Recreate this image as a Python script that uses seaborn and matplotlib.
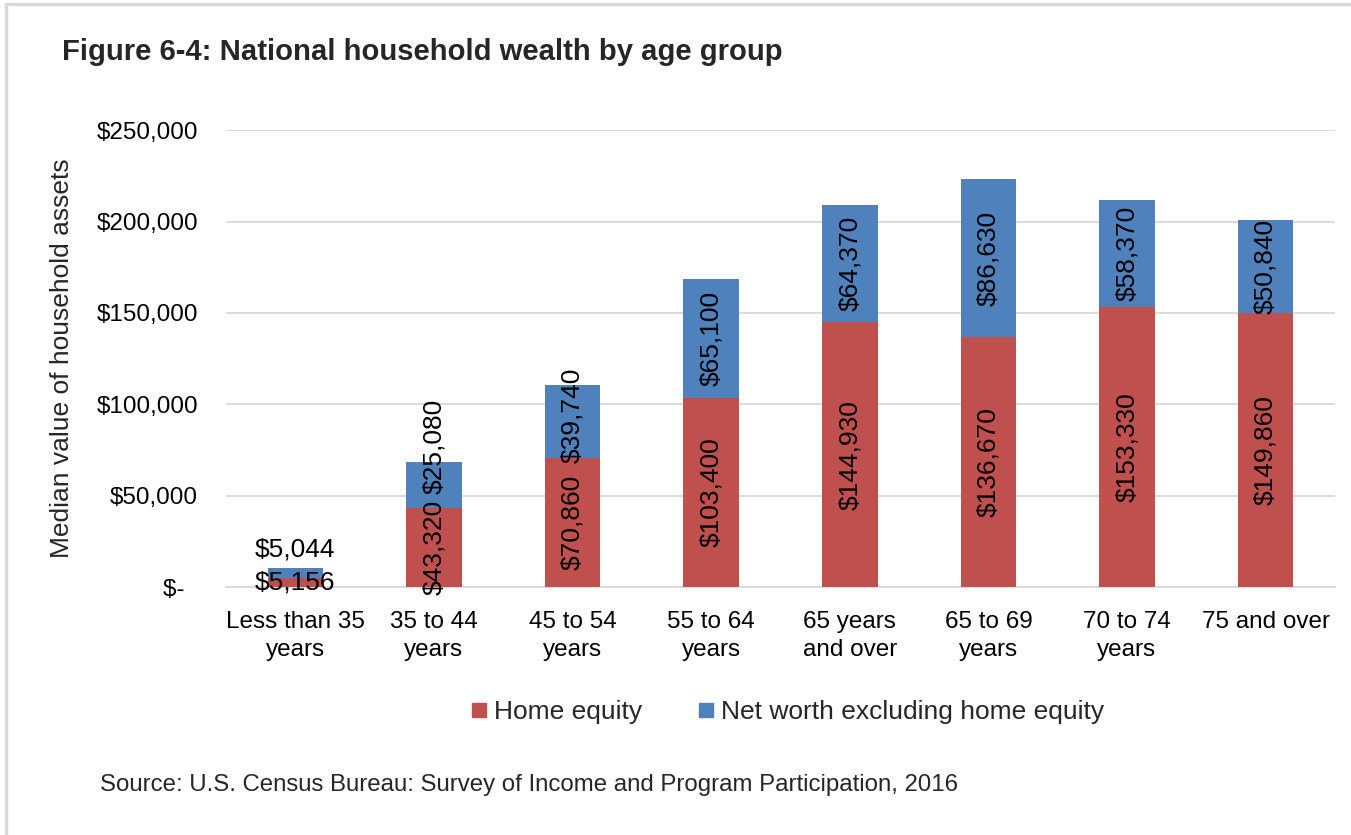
import matplotlib
matplotlib.use("Agg")
import matplotlib.pyplot as plt
from matplotlib.lines import Line2D
import seaborn as sns
import pandas as pd

# Median household wealth by age group (SIPP 2016)
age_groups = ["Less than 35\nyears", "35 to 44\nyears", "45 to 54\nyears", "55 to 64\nyears",
              "65 years\nand over", "65 to 69\nyears", "70 to 74\nyears", "75 and over"]
home_equity = [5156, 43320, 70860, 103400, 144930, 136670, 153330, 149860]
net_worth_ex_home = [5044, 25080, 39740, 65100, 64370, 86630, 58370, 50840]
y_ticks = [0, 50000, 100000, 150000, 200000, 250000]
y_tick_labels = ["$-  ", "$50,000", "$100,000", "$150,000", "$200,000", "$250,000"]

RED = "#C0504D"
BLUE = "#4F81BD"
GRID = "#D9D9D9"

sns.set_theme(style="white")
plt.rcParams["font.family"] = ["Liberation Sans", "DejaVu Sans"]

df = pd.DataFrame({
    "age": age_groups,
    "home": home_equity,
    "other": net_worth_ex_home,
})
df["total"] = df["home"] + df["other"]

fig = plt.figure(figsize=(13.51, 8.35), dpi=100)
ax = fig.add_axes([0.1673, 0.297, 0.8208, 0.547])

# Stacked bars: total in blue, home equity in red drawn over it
sns.barplot(data=df, x="age", y="total", color=BLUE, width=0.4, saturation=1,
            linewidth=0, ax=ax, zorder=2)
sns.barplot(data=df, x="age", y="home", color=RED, width=0.4, saturation=1,
            linewidth=0, ax=ax, zorder=3)

ax.set_ylim(0, 250000)
ax.set_xlim(-0.5, len(age_groups) - 0.5)
ax.set_yticks(y_ticks)
ax.set_yticklabels(y_tick_labels)
ax.yaxis.grid(True, color=GRID, linewidth=1.3, zorder=0)
ax.set_axisbelow(True)
for side in ["top", "right", "left"]:
    ax.spines[side].set_visible(False)
ax.spines["bottom"].set_color(GRID)
ax.spines["bottom"].set_linewidth(1.3)
ax.tick_params(axis="both", length=0, labelsize=17.5, colors="black")
ax.tick_params(axis="x", pad=17)
ax.tick_params(axis="y", pad=20)
plt.setp(ax.get_xticklabels(), linespacing=1.4)
ax.set_xlabel("")
ax.set_ylabel("")
fig.text(62 / 1351, 0.5713, "Median value of household assets", rotation=90,
         fontsize=19, ha="center", va="center")

# Value labels
label_kw = dict(fontsize=19, color="black", ha="center", va="center", zorder=5,
                textcoords="offset points")
# extra vertical nudge (points) for upper labels where the segment is too short
other_nudge = [17, 28, 4, 0, 0, 0, 0, 0]
for i, (h, o) in enumerate(zip(home_equity, net_worth_ex_home)):
    rot = 0 if i == 0 else 90
    ax.annotate(f"${h:,}", (i, h / 2), xytext=(0, 0), rotation=rot, **label_kw)
    ax.annotate(f"${o:,}", (i, h + o / 2), xytext=(0, other_nudge[i]),
                rotation=rot, **label_kw)

# Legend
handles = [
    Line2D([], [], marker="s", linestyle="none", markersize=10, color=RED),
    Line2D([], [], marker="s", linestyle="none", markersize=10, color=BLUE),
]
fig.legend(handles, ["Home equity", "Net worth excluding home equity"],
           loc="center", bbox_to_anchor=(0.581, 0.147), ncol=2, frameon=False,
           fontsize=19, handletextpad=0.05, columnspacing=1.95, handlelength=1.0)

# Title and source
fig.text(0.046, 0.938, "Figure 6-4: National household wealth by age group",
         fontsize=21.1, fontweight="bold", ha="left", va="center")
fig.text(0.074, 0.06, "Source: U.S. Census Bureau: Survey of Income and Program Participation, 2016",
         fontsize=17.3, ha="left", va="center")

# Frame lines along top and left edges
fig.add_artist(Line2D([0.0045, 0.0045], [0, 0.995], transform=fig.transFigure,
                      color=GRID, linewidth=2.5))
fig.add_artist(Line2D([0.0045, 1.0], [0.995, 0.995], transform=fig.transFigure,
                      color=GRID, linewidth=2.5))

fig.savefig("out.png", dpi=100, facecolor="white")
